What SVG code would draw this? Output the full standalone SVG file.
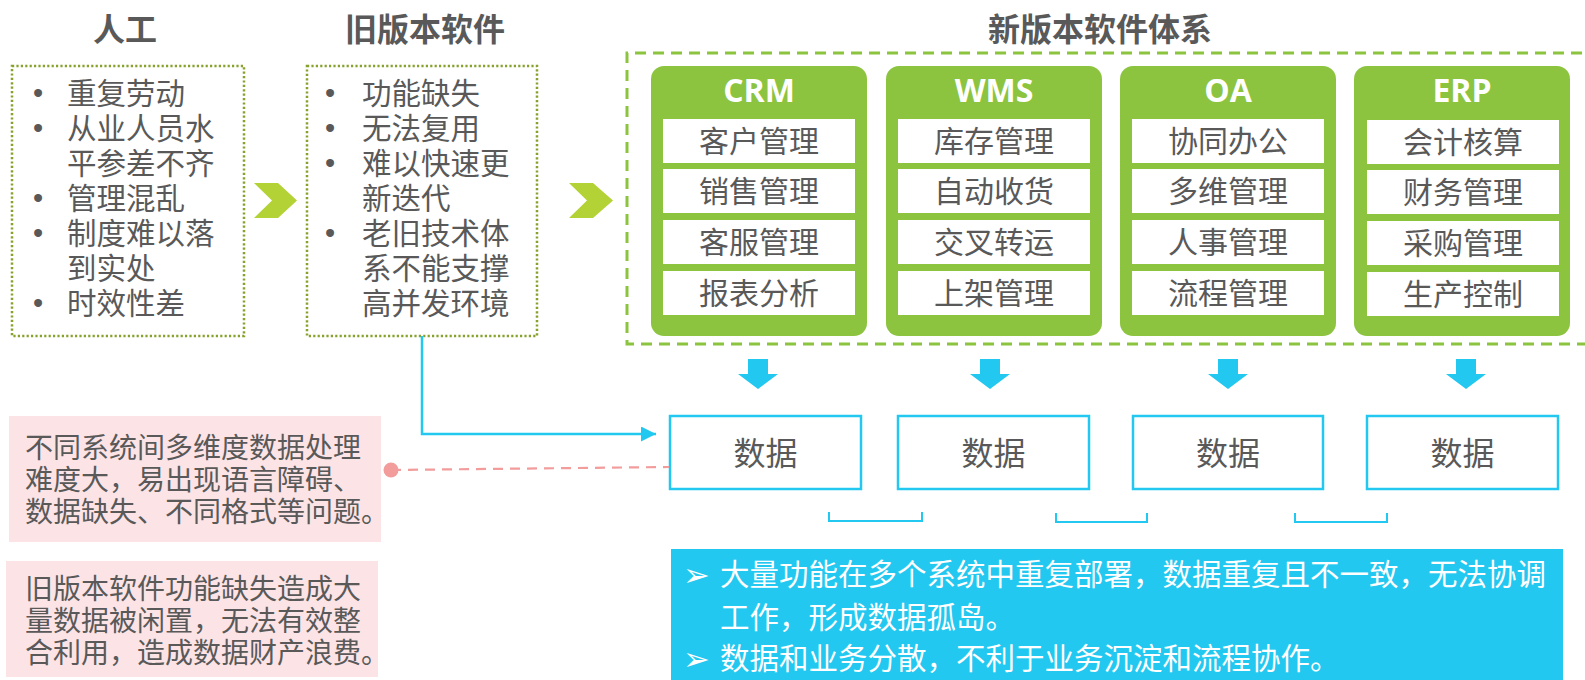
<svg xmlns="http://www.w3.org/2000/svg" width="1585" height="680" viewBox="0 0 1585 680">
<defs>
<style>
.title{font-family:"Noto Sans CJK SC",sans-serif;font-weight:bold;font-size:32px;fill:#595959;text-anchor:middle}
.list{font-family:"Noto Sans CJK SC",sans-serif;font-size:29.5px;fill:#595959}
.bul{font-family:"Liberation Sans",sans-serif;font-size:29px;fill:#595959;text-anchor:middle}
.dotbox{fill:none;stroke:#86a22c;stroke-width:2.5;stroke-dasharray:2.2 2.2}
.chev{fill:#b3d235}
.panel{fill:#8cc43f}
.ptitle{font-family:"Open Sans","Liberation Sans",sans-serif;font-weight:bold;font-size:32px;fill:#ffffff;text-anchor:middle}
.row{fill:#ffffff}
.rowt{font-family:"Noto Sans CJK SC",sans-serif;font-size:30px;fill:#595959;text-anchor:middle}
.dbox{fill:#ffffff;stroke:#22c8f0;stroke-width:2.5}
.dtext{font-family:"Noto Sans CJK SC",sans-serif;font-size:32px;fill:#595959;text-anchor:middle}
.darrow{fill:#22c8f0}
.brk{fill:none;stroke:#22c8f0;stroke-width:2}
.pink{fill:#fce4e6}
.ptext{font-family:"Noto Sans CJK SC",sans-serif;font-size:28px;fill:#595959}
.btext{font-family:"Noto Sans CJK SC",sans-serif;font-size:29.5px;fill:#ffffff}
.barrow{font-family:"DejaVu Sans",sans-serif;font-size:32px;fill:#ffffff}
</style>
<marker id="arr" viewBox="0 0 10 10" refX="10" refY="5" markerWidth="6" markerHeight="6" markerUnits="strokeWidth" orient="auto">
<path d="M0,0 L10,5 L0,10 z" fill="#22c8f0"/>
</marker>
</defs>

<g id="title-rengong"><text class="title" x="125" y="41">人工</text></g>
<g id="title-old"><text class="title" x="425" y="41">旧版本软件</text></g>
<g id="title-new"><text class="title" x="1100" y="41">新版本软件体系</text></g>

<g id="box-rengong">
<rect class="dotbox" x="12" y="66" width="232" height="270"/>
<text class="bul" x="38" y="103">•</text><text class="list" x="67" y="104">重复劳动</text>
<text class="bul" x="38" y="138">•</text><text class="list" x="67" y="139">从业人员水</text>
<text class="list" x="67" y="174">平参差不齐</text>
<text class="bul" x="38" y="208">•</text><text class="list" x="67" y="209">管理混乱</text>
<text class="bul" x="38" y="243">•</text><text class="list" x="67" y="244">制度难以落</text>
<text class="list" x="67" y="279">到实处</text>
<text class="bul" x="38" y="313">•</text><text class="list" x="67" y="314">时效性差</text>
</g>

<g id="chevron-1"><polygon class="chev" points="254,183 278,183 297,200.5 278,218 254,218 272,200.5"/></g>

<g id="box-old">
<rect class="dotbox" x="307" y="66" width="230" height="270"/>
<text class="bul" x="330" y="103">•</text><text class="list" x="362" y="104">功能缺失</text>
<text class="bul" x="330" y="138">•</text><text class="list" x="362" y="139">无法复用</text>
<text class="bul" x="330" y="173">•</text><text class="list" x="362" y="174">难以快速更</text>
<text class="list" x="362" y="209">新迭代</text>
<text class="bul" x="330" y="243">•</text><text class="list" x="362" y="244">老旧技术体</text>
<text class="list" x="362" y="279">系不能支撑</text>
<text class="list" x="362" y="314">高并发环境</text>
</g>

<g id="chevron-2"><polygon class="chev" points="569,183 593,183 613,200.5 593,218 569,218 587,200.5"/></g>

<g id="new-system">
<path d="M1600,53 H627 V344 H1600" fill="none" stroke="#8cc43f" stroke-width="3" stroke-dasharray="11 7"/>
</g>

<g id="panel-crm">
<rect class="panel" x="651" y="66" width="216" height="270" rx="13"/>
<text class="ptitle" x="759" y="102">CRM</text>
<rect class="row" x="663" y="119" width="192" height="44"/><text class="rowt" x="759" y="152">客户管理</text>
<rect class="row" x="663" y="169" width="192" height="44"/><text class="rowt" x="759" y="202">销售管理</text>
<rect class="row" x="663" y="220" width="192" height="44"/><text class="rowt" x="759" y="253">客服管理</text>
<rect class="row" x="663" y="271" width="192" height="44"/><text class="rowt" x="759" y="304">报表分析</text>
</g>

<g id="panel-wms">
<rect class="panel" x="886" y="66" width="216" height="270" rx="13"/>
<text class="ptitle" x="994" y="102">WMS</text>
<rect class="row" x="898" y="119" width="192" height="44"/><text class="rowt" x="994" y="152">库存管理</text>
<rect class="row" x="898" y="169" width="192" height="44"/><text class="rowt" x="994" y="202">自动收货</text>
<rect class="row" x="898" y="220" width="192" height="44"/><text class="rowt" x="994" y="253">交叉转运</text>
<rect class="row" x="898" y="271" width="192" height="44"/><text class="rowt" x="994" y="304">上架管理</text>
</g>

<g id="panel-oa">
<rect class="panel" x="1120" y="66" width="216" height="270" rx="13"/>
<text class="ptitle" x="1228" y="102">OA</text>
<rect class="row" x="1132" y="119" width="192" height="44"/><text class="rowt" x="1228" y="152">协同办公</text>
<rect class="row" x="1132" y="169" width="192" height="44"/><text class="rowt" x="1228" y="202">多维管理</text>
<rect class="row" x="1132" y="220" width="192" height="44"/><text class="rowt" x="1228" y="253">人事管理</text>
<rect class="row" x="1132" y="271" width="192" height="44"/><text class="rowt" x="1228" y="304">流程管理</text>
</g>

<g id="panel-erp">
<rect class="panel" x="1354" y="66" width="216" height="270" rx="13"/>
<text class="ptitle" x="1462" y="102">ERP</text>
<rect class="row" x="1367" y="120" width="192" height="44"/><text class="rowt" x="1463" y="153">会计核算</text>
<rect class="row" x="1367" y="170" width="192" height="44"/><text class="rowt" x="1463" y="203">财务管理</text>
<rect class="row" x="1367" y="221" width="192" height="44"/><text class="rowt" x="1463" y="254">采购管理</text>
<rect class="row" x="1367" y="272" width="192" height="44"/><text class="rowt" x="1463" y="305">生产控制</text>
</g>

<g id="data-1"><rect class="dbox" x="670" y="416" width="191" height="73"/><text class="dtext" x="765.5" y="465">数据</text></g>
<g id="data-2"><rect class="dbox" x="898" y="416" width="191" height="73"/><text class="dtext" x="993.5" y="465">数据</text></g>
<g id="data-3"><rect class="dbox" x="1133" y="416" width="190" height="73"/><text class="dtext" x="1228" y="465">数据</text></g>
<g id="data-4"><rect class="dbox" x="1367" y="416" width="191" height="73"/><text class="dtext" x="1462.5" y="465">数据</text></g>

<g id="note-1">
<rect class="pink" x="9" y="416" width="372" height="126"/>
<text class="ptext" x="25" y="458">不同系统间多维度数据处理</text>
<text class="ptext" x="25" y="490">难度大，易出现语言障碍、</text>
<text class="ptext" x="25" y="522">数据缺失、不同格式等问题。</text>
</g>

<g id="note-2">
<rect class="pink" x="6" y="561" width="372" height="116"/>
<text class="ptext" x="25" y="599">旧版本软件功能缺失造成大</text>
<text class="ptext" x="25" y="631">量数据被闲置，无法有效整</text>
<text class="ptext" x="25" y="663">合利用，造成数据财产浪费。</text>
</g>

<g id="summary">
<rect x="671" y="549" width="892" height="140" fill="#22c8f0"/>
<text class="barrow" x="683" y="586">➢</text>
<text class="btext" x="720" y="585">大量功能在多个系统中重复部署，数据重复且不一致，无法协调</text>
<text class="btext" x="720" y="628">工作，形成数据孤岛。</text>
<text class="barrow" x="683" y="670">➢</text>
<text class="btext" x="720" y="669">数据和业务分散，不利于业务沉淀和流程协作。</text>
</g>

<g id="connectors">
<path d="M422,336 V434 H656" fill="none" stroke="#22c8f0" stroke-width="2.5" marker-end="url(#arr)"/>
<line x1="391" y1="470" x2="669" y2="467" stroke="#f29c9c" stroke-width="2.2" stroke-dasharray="10 7"/>
<circle cx="391" cy="470" r="7.5" fill="#f29c9c"/>
<polygon class="darrow" points="748,359 768,359 768,374 778,374 758,389 738,374 748,374"/>
<polygon class="darrow" points="980,359 1000,359 1000,374 1010,374 990,389 970,374 980,374"/>
<polygon class="darrow" points="1218,359 1238,359 1238,374 1248,374 1228,389 1208,374 1218,374"/>
<polygon class="darrow" points="1456,359 1476,359 1476,374 1486,374 1466,389 1446,374 1456,374"/>
<path class="brk" d="M829,512 V521 H922 V512"/>
<path class="brk" d="M1056,513 V522 H1147 V513"/>
<path class="brk" d="M1295,513 V522 H1387 V513"/>
</g>
</svg>
